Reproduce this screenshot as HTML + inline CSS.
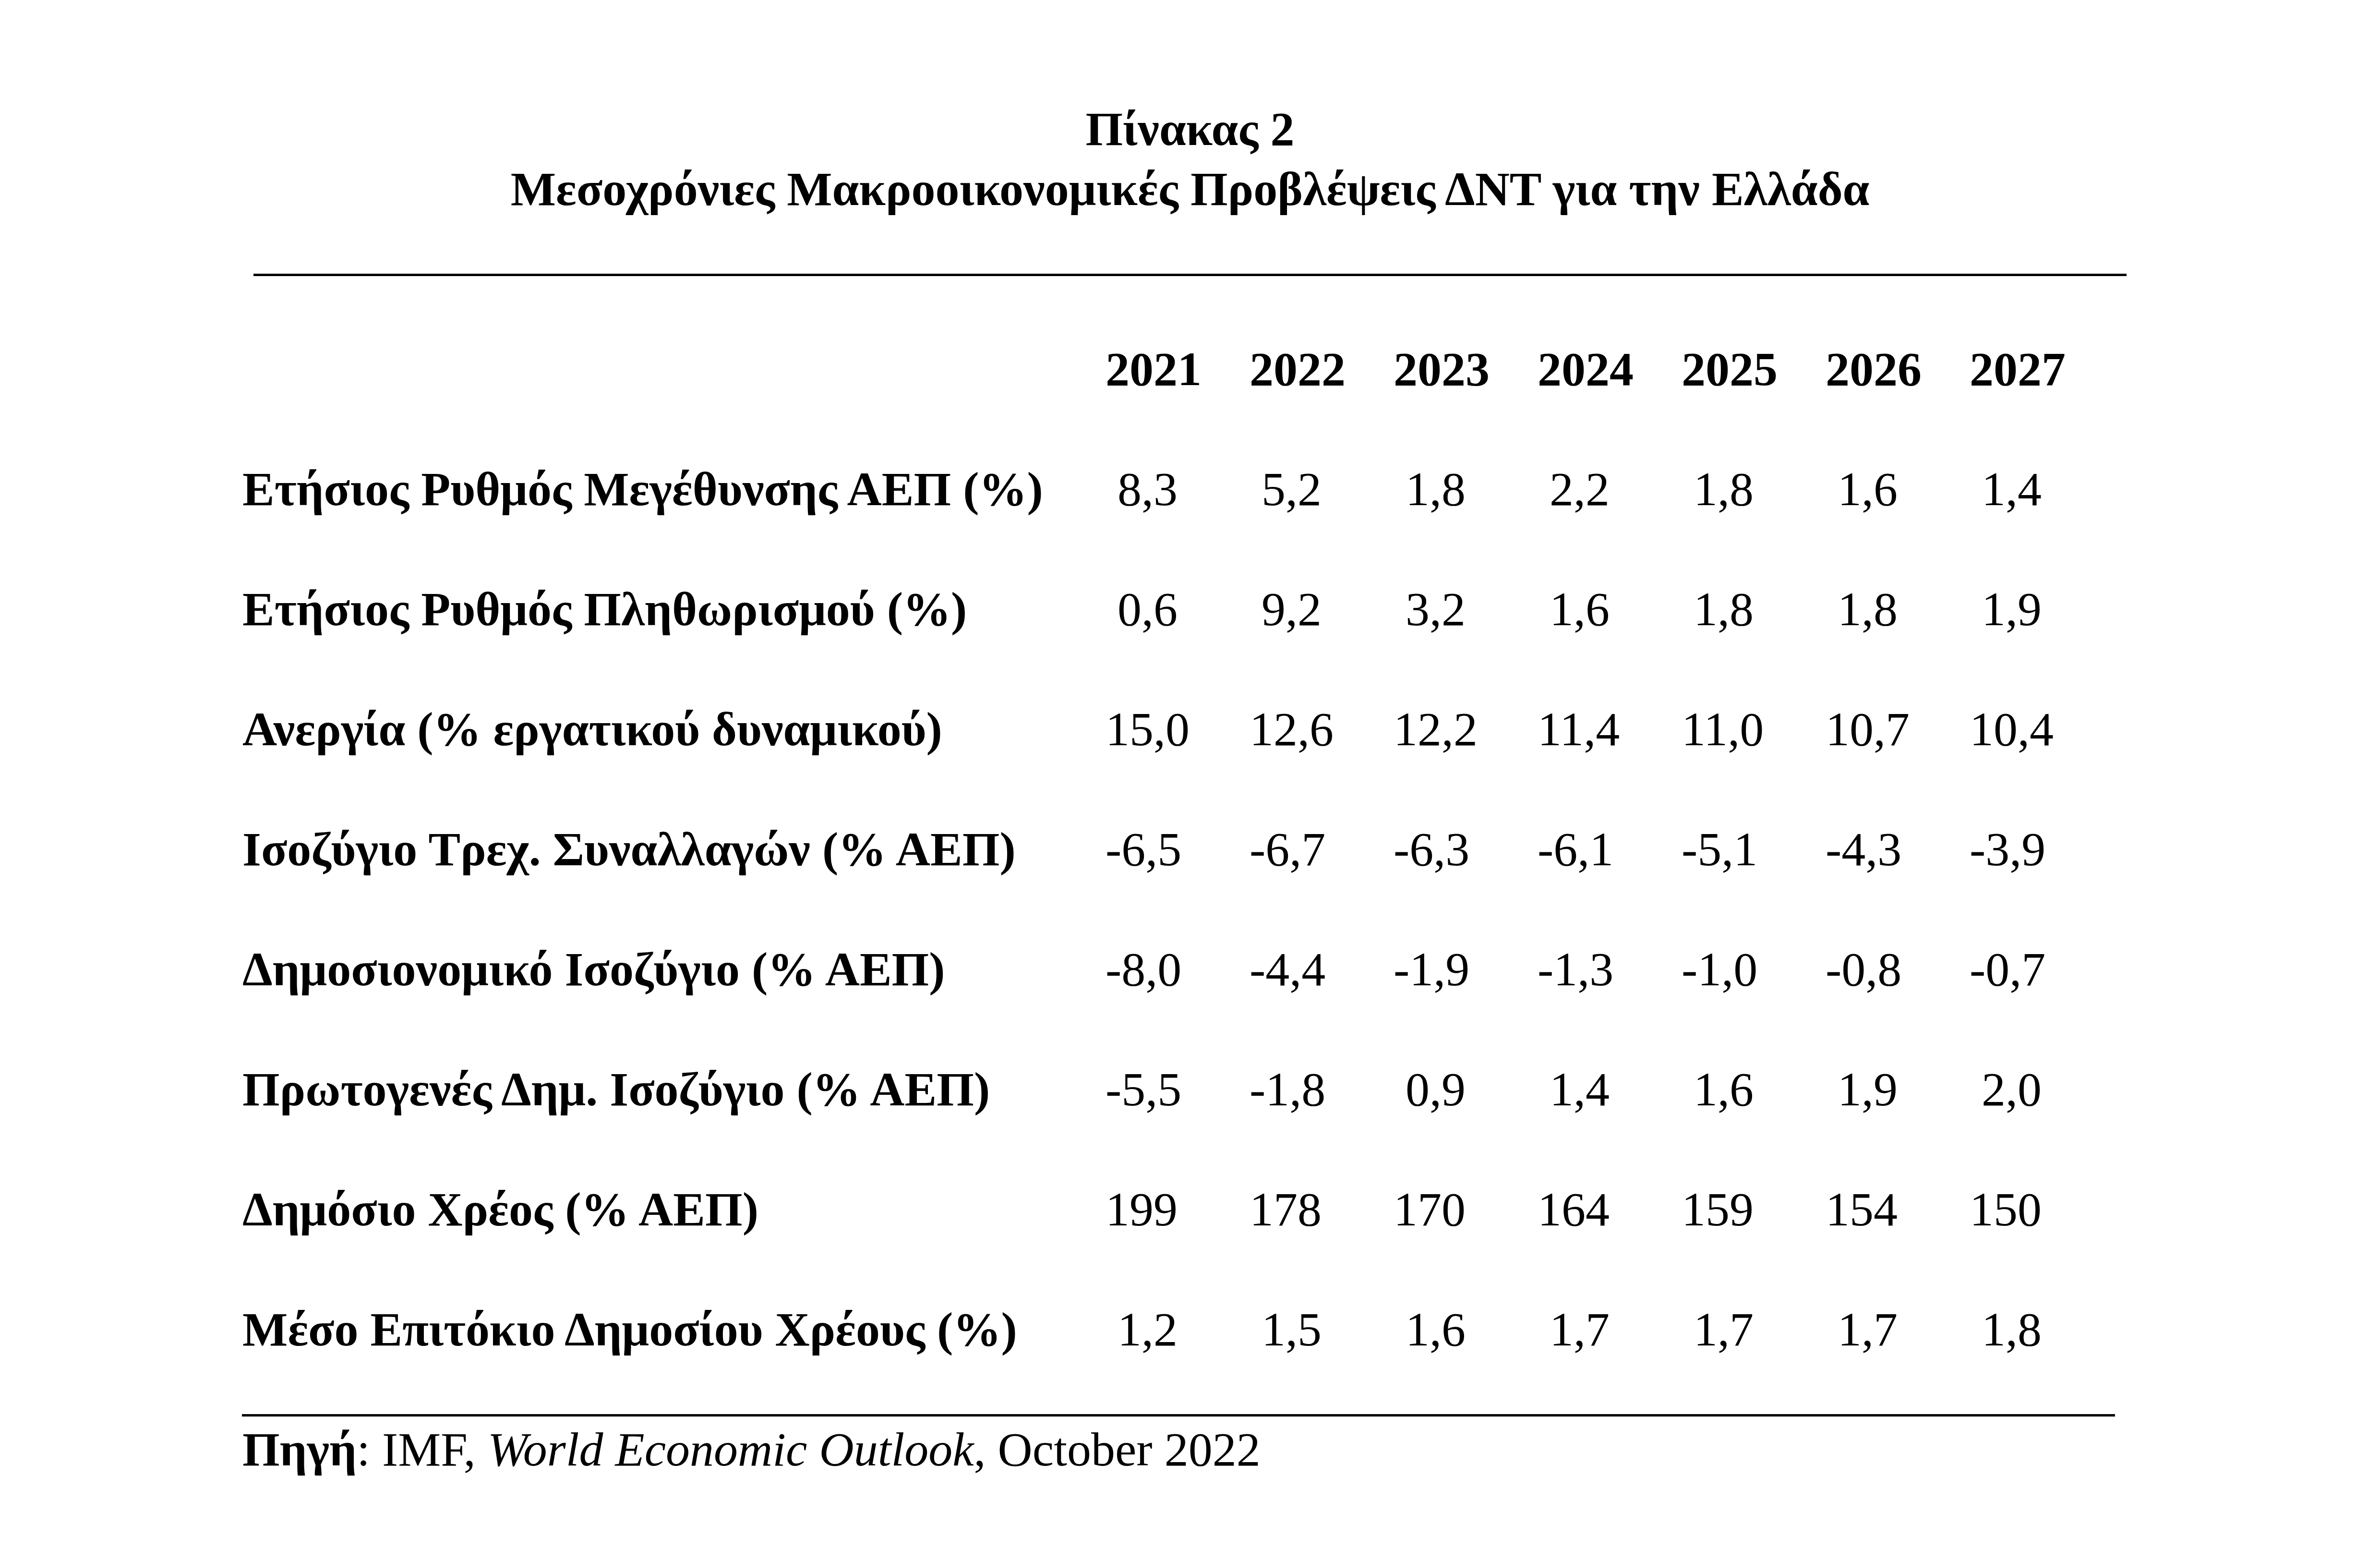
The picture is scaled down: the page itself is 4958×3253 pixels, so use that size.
<!DOCTYPE html>
<html><head><meta charset="utf-8">
<style>
html,body{margin:0;padding:0;background:#fff;}
body{width:4958px;height:3253px;position:relative;overflow:hidden;font-family:"Liberation Serif",serif;color:#000;}
.t{position:absolute;font-size:100px;line-height:100px;white-space:pre;}
.b{font-weight:bold;}
.c{left:0;width:4958px;text-align:center;}
.ln{position:absolute;background:#000;}
</style></head><body>
<div class="t b c" style="top:219px">Πίνακας 2</div>
<div class="t b c" style="top:344px">Μεσοχρόνιες Μακροοικονομικές Προβλέψεις ΔΝΤ για την Ελλάδα</div>
<div class="ln" style="left:528px;top:570px;width:3902px;height:5px"></div>
<div class="t b" style="left:2303px;top:719px;">2021</div>
<div class="t b" style="left:2603px;top:719px;">2022</div>
<div class="t b" style="left:2903px;top:719px;">2023</div>
<div class="t b" style="left:3203px;top:719px;">2024</div>
<div class="t b" style="left:3503px;top:719px;">2025</div>
<div class="t b" style="left:3803px;top:719px;">2026</div>
<div class="t b" style="left:4103px;top:719px;">2027</div>
<div class="t b" style="left:505px;top:969px;">Ετήσιος Ρυθμός Μεγέθυνσης ΑΕΠ (%)</div>
<div class="t r" style="left:2328px;top:969px;">8,3</div>
<div class="t r" style="left:2628px;top:969px;">5,2</div>
<div class="t r" style="left:2928px;top:969px;">1,8</div>
<div class="t r" style="left:3228px;top:969px;">2,2</div>
<div class="t r" style="left:3528px;top:969px;">1,8</div>
<div class="t r" style="left:3828px;top:969px;">1,6</div>
<div class="t r" style="left:4128px;top:969px;">1,4</div>
<div class="t b" style="left:505px;top:1219px;">Ετήσιος Ρυθμός Πληθωρισμού (%)</div>
<div class="t r" style="left:2328px;top:1219px;">0,6</div>
<div class="t r" style="left:2628px;top:1219px;">9,2</div>
<div class="t r" style="left:2928px;top:1219px;">3,2</div>
<div class="t r" style="left:3228px;top:1219px;">1,6</div>
<div class="t r" style="left:3528px;top:1219px;">1,8</div>
<div class="t r" style="left:3828px;top:1219px;">1,8</div>
<div class="t r" style="left:4128px;top:1219px;">1,9</div>
<div class="t b" style="left:505px;top:1469px;">Ανεργία (% εργατικού δυναμικού)</div>
<div class="t r" style="left:2303px;top:1469px;">15,0</div>
<div class="t r" style="left:2603px;top:1469px;">12,6</div>
<div class="t r" style="left:2903px;top:1469px;">12,2</div>
<div class="t r" style="left:3203px;top:1469px;">11,4</div>
<div class="t r" style="left:3503px;top:1469px;">11,0</div>
<div class="t r" style="left:3803px;top:1469px;">10,7</div>
<div class="t r" style="left:4103px;top:1469px;">10,4</div>
<div class="t b" style="left:505px;top:1719px;">Ισοζύγιο Τρεχ. Συναλλαγών (% ΑΕΠ)</div>
<div class="t r" style="left:2303px;top:1719px;">-6,5</div>
<div class="t r" style="left:2603px;top:1719px;">-6,7</div>
<div class="t r" style="left:2903px;top:1719px;">-6,3</div>
<div class="t r" style="left:3203px;top:1719px;">-6,1</div>
<div class="t r" style="left:3503px;top:1719px;">-5,1</div>
<div class="t r" style="left:3803px;top:1719px;">-4,3</div>
<div class="t r" style="left:4103px;top:1719px;">-3,9</div>
<div class="t b" style="left:505px;top:1969px;">Δημοσιονομικό Ισοζύγιο (% ΑΕΠ)</div>
<div class="t r" style="left:2303px;top:1969px;">-8,0</div>
<div class="t r" style="left:2603px;top:1969px;">-4,4</div>
<div class="t r" style="left:2903px;top:1969px;">-1,9</div>
<div class="t r" style="left:3203px;top:1969px;">-1,3</div>
<div class="t r" style="left:3503px;top:1969px;">-1,0</div>
<div class="t r" style="left:3803px;top:1969px;">-0,8</div>
<div class="t r" style="left:4103px;top:1969px;">-0,7</div>
<div class="t b" style="left:505px;top:2219px;">Πρωτογενές Δημ. Ισοζύγιο (% ΑΕΠ)</div>
<div class="t r" style="left:2303px;top:2219px;">-5,5</div>
<div class="t r" style="left:2603px;top:2219px;">-1,8</div>
<div class="t r" style="left:2928px;top:2219px;">0,9</div>
<div class="t r" style="left:3228px;top:2219px;">1,4</div>
<div class="t r" style="left:3528px;top:2219px;">1,6</div>
<div class="t r" style="left:3828px;top:2219px;">1,9</div>
<div class="t r" style="left:4128px;top:2219px;">2,0</div>
<div class="t b" style="left:505px;top:2469px;">Δημόσιο Χρέος (% ΑΕΠ)</div>
<div class="t r" style="left:2303px;top:2469px;">199</div>
<div class="t r" style="left:2603px;top:2469px;">178</div>
<div class="t r" style="left:2903px;top:2469px;">170</div>
<div class="t r" style="left:3203px;top:2469px;">164</div>
<div class="t r" style="left:3503px;top:2469px;">159</div>
<div class="t r" style="left:3803px;top:2469px;">154</div>
<div class="t r" style="left:4103px;top:2469px;">150</div>
<div class="t b" style="left:505px;top:2719px;">Μέσο Επιτόκιο Δημοσίου Χρέους (%)</div>
<div class="t r" style="left:2328px;top:2719px;">1,2</div>
<div class="t r" style="left:2628px;top:2719px;">1,5</div>
<div class="t r" style="left:2928px;top:2719px;">1,6</div>
<div class="t r" style="left:3228px;top:2719px;">1,7</div>
<div class="t r" style="left:3528px;top:2719px;">1,7</div>
<div class="t r" style="left:3828px;top:2719px;">1,7</div>
<div class="t r" style="left:4128px;top:2719px;">1,8</div>
<div class="ln" style="left:504px;top:2945px;width:3902px;height:5px"></div>
<div class="t r" style="left:505px;top:2969px;"><b>Πηγή</b>: IMF, <i>World Economic Outlook</i>, October 2022</div>
</body></html>
